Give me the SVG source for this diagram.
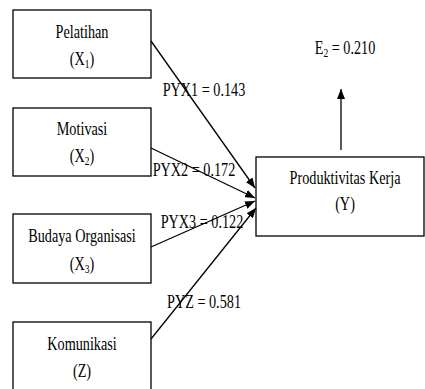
<svg xmlns="http://www.w3.org/2000/svg" width="425" height="389" viewBox="0 0 425 389">
<style>
.box{fill:#fff;stroke:#000;stroke-width:1.3}
.t{font-family:"Liberation Serif","Times New Roman",serif;font-size:18px;fill:#000;text-anchor:middle}
.lbl{font-family:"Liberation Serif","Times New Roman",serif;font-size:18px;fill:#000;text-anchor:middle}
.sub{font-size:12px}
.c{stroke:#000;stroke-width:1.3;fill:none;marker-end:url(#ah)}
</style>
<defs>
<marker id="ah" markerUnits="userSpaceOnUse" markerWidth="10" markerHeight="8" refX="10" refY="4" orient="auto">
<path d="M0,0 L10,4 L0,8 z" fill="#000"/>
</marker>
</defs>
<rect width="425" height="389" fill="#fff"/>
<g id="node-x1">
<rect class="box" x="13" y="10" width="138" height="68"/>
<text class="t" transform="translate(82,38) scale(0.79,1)">Pelatihan</text>
<text class="t" transform="translate(82,65) scale(0.79,1)">(X<tspan class="sub" dy="3">1</tspan><tspan dy="-3">)</tspan></text>
</g>
<g id="node-x2">
<rect class="box" x="13" y="108" width="138" height="68"/>
<text class="t" transform="translate(82,135) scale(0.79,1)">Motivasi</text>
<text class="t" transform="translate(82,162) scale(0.79,1)">(X<tspan class="sub" dy="3">2</tspan><tspan dy="-3">)</tspan></text>
</g>
<g id="node-x3">
<rect class="box" x="13" y="214" width="138" height="69"/>
<text class="t" transform="translate(82,242) scale(0.79,1)">Budaya Organisasi</text>
<text class="t" transform="translate(82,270) scale(0.79,1)">(X<tspan class="sub" dy="3">3</tspan><tspan dy="-3">)</tspan></text>
</g>
<g id="node-z">
<rect class="box" x="13" y="322" width="138" height="80"/>
<text class="t" transform="translate(82,350) scale(0.79,1)">Komunikasi</text>
<text class="t" transform="translate(82,377) scale(0.79,1)">(Z)</text>
</g>
<g id="node-y">
<rect class="box" x="256" y="157" width="168" height="79"/>
<text class="t" transform="translate(345,184) scale(0.79,1)">Produktivitas Kerja</text>
<text class="t" transform="translate(345,210) scale(0.79,1)">(Y)</text>
</g>
<g id="node-e">
<text class="t" transform="translate(345,54) scale(0.79,1)">E<tspan class="sub" dy="3">2</tspan><tspan dy="-3"> = 0.210</tspan></text>
</g>
<g id="connectors">
<line class="c" x1="151" y1="41" x2="255" y2="188"/>
<line class="c" x1="151" y1="148" x2="255" y2="198"/>
<line class="c" x1="151" y1="247" x2="255" y2="201"/>
<line class="c" x1="151" y1="339" x2="256" y2="208"/>
<line class="c" x1="341" y1="150" x2="341" y2="89"/>
<text class="lbl" transform="translate(204,96) scale(0.79,1)">PYX1 = 0.143</text>
<text class="lbl" transform="translate(194,176) scale(0.79,1)">PYX2 = 0.172</text>
<text class="lbl" transform="translate(202,228) scale(0.79,1)">PYX3 = 0.122</text>
<text class="lbl" transform="translate(204,308) scale(0.79,1)">PYZ = 0.581</text>
</g>
</svg>
